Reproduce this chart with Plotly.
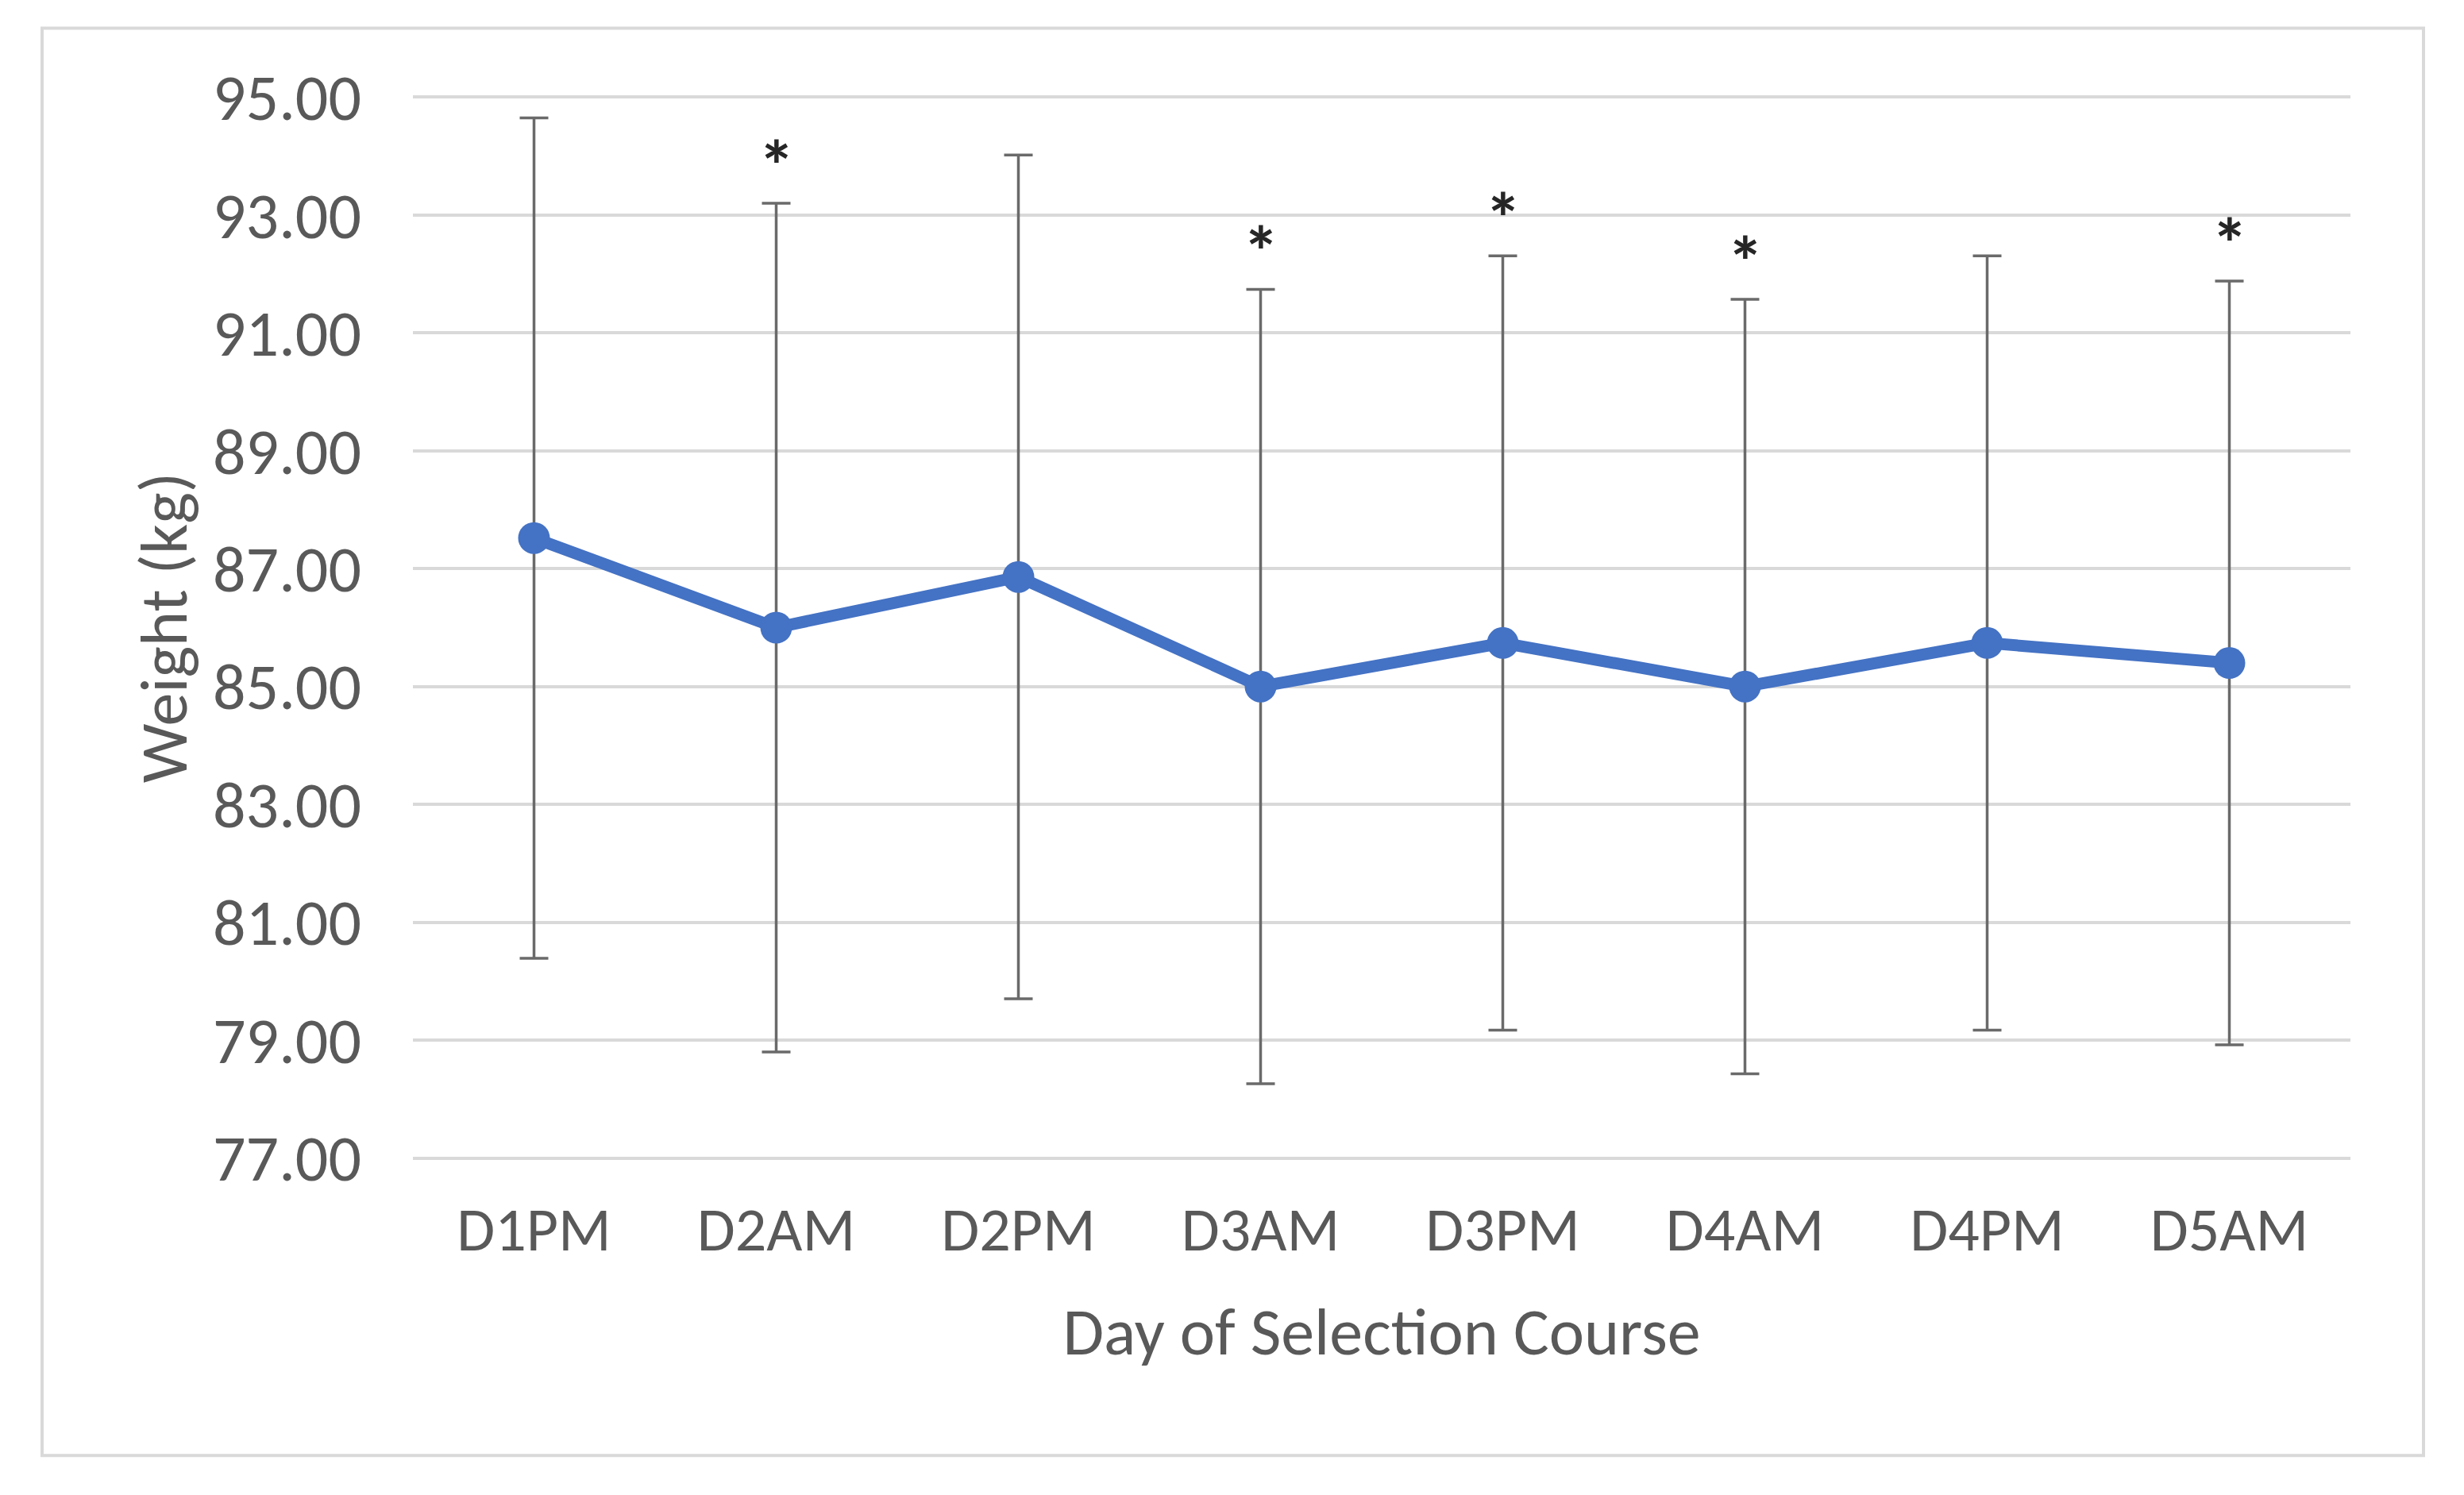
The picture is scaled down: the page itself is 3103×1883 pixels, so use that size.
import plotly.graph_objects as go

# ---- data ----
categories = ["D1PM", "D2AM", "D2PM", "D3AM", "D3PM", "D4AM", "D4PM", "D5AM"]
mean_weight = [87.52, 86.00, 86.86, 85.00, 85.74, 85.00, 85.74, 85.40]
sd_weight = [7.13, 7.20, 7.16, 6.74, 6.57, 6.57, 6.57, 6.48]
significant = [False, True, False, True, True, True, False, True]
y_ticks = [77, 79, 81, 83, 85, 87, 89, 91, 93, 95]

FONT = "Carlito, Calibri, 'Open Sans', sans-serif"
GREY = "#595959"

fig = go.Figure()
fig.add_trace(go.Scatter(
    x=categories, y=mean_weight, mode="lines+markers",
    line=dict(color="#4472C4", width=15),
    marker=dict(color="#4472C4", size=40),
    error_y=dict(type="data", array=sd_weight, visible=True,
                 color="#6a6a6a", thickness=3.5, width=18),
    showlegend=False,
))

for c, m, s, sig in zip(categories, mean_weight, sd_weight, significant):
    if sig:
        fig.add_annotation(x=c, y=m + s, text="<b>*</b>", showarrow=False,
                           yanchor="bottom", yshift=-12,
                           font=dict(family=FONT, size=92, color="#262626"))

# outer chart frame
fig.add_shape(type="rect", xref="paper", yref="paper",
              x0=-0.1914, x1=1.0377, y0=-0.2787, y1=1.0638,
              line=dict(color="#d9d9d9", width=4), fillcolor="rgba(0,0,0,0)",
              layer="below")

fig.update_layout(
    width=3103, height=1883,
    margin=dict(l=512, r=151, t=112.5, b=430.5),
    paper_bgcolor="white", plot_bgcolor="white",
    font=dict(family=FONT, color=GREY),
    xaxis=dict(
        type="category", range=[-0.5, 7.5], automargin=False,
        showgrid=False, showline=False, zeroline=False,
        tickfont=dict(size=78, color=GREY),
        ticks="", ticklabelstandoff=36,
        title=dict(text="Day of Selection Course", font=dict(size=84, color=GREY),
                   standoff=52),
    ),
    yaxis=dict(
        range=[76.98, 95.02], tickvals=y_ticks, automargin=False,
        ticktext=[f"{v:.2f}" for v in y_ticks],
        showgrid=True, gridcolor="#d9d9d9", gridwidth=4,
        showline=False, zeroline=False,
        tickfont=dict(size=82, color=GREY),
        ticks="", ticklabelstandoff=64,
        title=dict(text="Weight (kg)", font=dict(size=84, color=GREY), standoff=4),
    ),
)

fig.write_html("out.html")
